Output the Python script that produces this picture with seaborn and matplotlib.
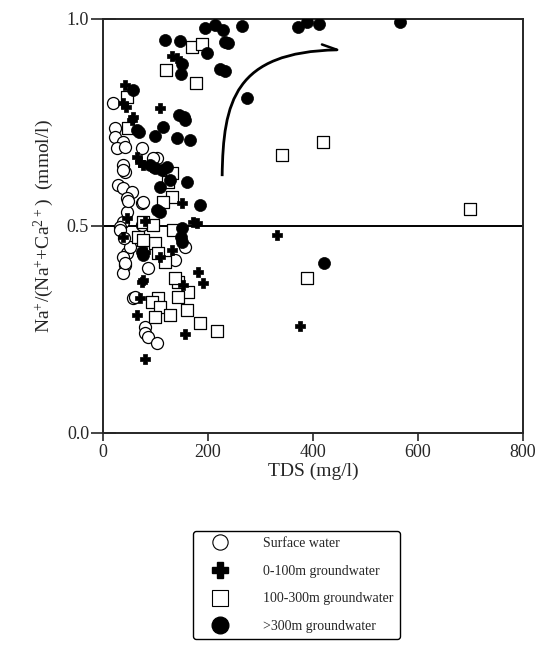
import matplotlib
matplotlib.use('Agg')
import matplotlib.pyplot as plt
from matplotlib.lines import Line2D
from matplotlib.path import Path
from matplotlib.patches import PathPatch
import numpy as np
import pandas as pd
import seaborn as sns

# surface water (open circles)
surf_tds = [19, 23, 23, 38, 27, 42, 74, 38, 42, 103, 29, 38, 55, 46, 74, 38, 46, 42, 38, 86,
            57, 74, 32, 156, 137, 80, 80, 86, 103, 38, 76, 46, 32, 38, 42, 95, 51, 61, 40, 48]
surf_rat = [0.797, 0.737, 0.715, 0.703, 0.688, 0.691, 0.688, 0.647, 0.630, 0.664, 0.599, 0.592,
            0.582, 0.568, 0.556, 0.510, 0.435, 0.406, 0.386, 0.399, 0.326, 0.502, 0.498, 0.449,
            0.418, 0.256, 0.242, 0.232, 0.217, 0.635, 0.558, 0.534, 0.490, 0.425, 0.410, 0.664,
            0.449, 0.329, 0.470, 0.560]
# 0-100m groundwater (crosses)
g1_tds = [42, 131, 141, 109, 38, 44, 57, 55, 65, 76, 93, 150, 171, 46, 179, 38, 76, 109, 131,
          76, 152, 181, 190, 65, 70, 156, 80, 331, 375, 70, 74, 80, 80]
g1_rat = [0.841, 0.911, 0.906, 0.785, 0.797, 0.787, 0.763, 0.756, 0.667, 0.647, 0.643, 0.556,
          0.510, 0.519, 0.507, 0.473, 0.430, 0.425, 0.442, 0.370, 0.357, 0.389, 0.362, 0.285,
          0.326, 0.239, 0.179, 0.478, 0.258, 0.655, 0.365, 0.437, 0.512]
# 100-300m groundwater (open squares)
g2_tds = [170, 189, 120, 177, 46, 48, 131, 124, 131, 114, 76, 99, 95, 67, 76, 105, 118, 143,
          137, 162, 143, 105, 93, 109, 128, 99, 160, 185, 217, 419, 340, 699, 389, 133]
g2_rat = [0.932, 0.940, 0.877, 0.845, 0.812, 0.737, 0.628, 0.606, 0.570, 0.558, 0.510, 0.459,
          0.502, 0.473, 0.466, 0.435, 0.413, 0.365, 0.374, 0.341, 0.329, 0.326, 0.316, 0.304,
          0.285, 0.280, 0.297, 0.266, 0.246, 0.703, 0.670, 0.541, 0.374, 0.490]
# >300m groundwater (filled circles)
g3_tds = [194, 213, 229, 232, 238, 265, 371, 389, 411, 566, 198, 223, 232, 274, 118, 147, 150,
          149, 57, 145, 154, 156, 114, 99, 141, 166, 65, 69, 99, 112, 109, 160, 185, 103, 109,
          150, 149, 150, 74, 76, 421, 89, 122, 128]
g3_rat = [0.978, 0.986, 0.973, 0.944, 0.942, 0.983, 0.981, 0.993, 0.988, 0.993, 0.918, 0.879,
          0.874, 0.809, 0.949, 0.947, 0.891, 0.867, 0.829, 0.768, 0.763, 0.756, 0.739, 0.717,
          0.713, 0.708, 0.732, 0.727, 0.640, 0.635, 0.594, 0.606, 0.551, 0.539, 0.534, 0.495,
          0.473, 0.461, 0.437, 0.430, 0.411, 0.647, 0.643, 0.611]

# trend arrow (bezier control points) and its barb
arrow_ctrl = [(227, 0.62), (229, 0.80), (250, 0.92), (446, 0.925)]
arrow_barb = [(417, 0.938), (446, 0.925)]

labels = ['Surface water', '0-100m groundwater', '100-300m groundwater', '>300m groundwater']

sns.set_style('ticks')
plt.rcParams['font.family'] = ['Liberation Serif', 'DejaVu Serif']
plt.rcParams['mathtext.default'] = 'regular'

fig = plt.figure(figsize=(5.36, 6.48), dpi=100)
ax = fig.add_axes([0.192, 0.332, 0.784, 0.639])

ax.axhline(0.5, color='black', lw=1.4, zorder=1)

groups = [
    (surf_tds, surf_rat, 'o', 'white', 75, 0.9),
    (g2_tds, g2_rat, 's', 'white', 70, 0.9),
    (g1_tds, g1_rat, 'P', 'black', 60, 0.5),
    (g3_tds, g3_rat, 'o', 'black', 75, 0.5),
]
for i, (x, y, m, fc, s, lw) in enumerate(groups):
    df = pd.DataFrame({'TDS': x, 'ratio': y})
    sns.scatterplot(data=df, x='TDS', y='ratio', marker=m, s=s, color=fc,
                    edgecolor='black', linewidth=lw, ax=ax, zorder=3 + i)

path = Path(arrow_ctrl, [Path.MOVETO, Path.CURVE4, Path.CURVE4, Path.CURVE4])
ax.add_patch(PathPatch(path, fc='none', ec='black', lw=2.0, zorder=10))
ax.plot([p[0] for p in arrow_barb], [p[1] for p in arrow_barb], color='black', lw=1.8, zorder=10)

ax.set_xlim(0, 800)
ax.set_ylim(0, 1.0)
ax.set_xticks([0, 200, 400, 600, 800])
ax.set_yticks([0.0, 0.5, 1.0])
ax.set_yticklabels(['0.0', '0.5', '1.0'])
ax.tick_params(axis='y', direction='inout', length=18, width=1.2, labelsize=13, pad=1)
ax.tick_params(axis='x', direction='out', length=6, width=1.2, labelsize=13, pad=2)
for sp in ax.spines.values():
    sp.set_linewidth(1.4)
    sp.set_visible(True)
ax.set_xlabel('TDS (mg/l)', fontsize=14, labelpad=1)
ax.set_ylabel(r'Na$^{+}$/(Na$^{+}$+Ca$^{2+}$)  (mmol/l)', fontsize=14, labelpad=8)

leg_handles = [
    Line2D([], [], marker='o', ls='', markersize=11, mfc='white', mec='black', mew=0.8),
    Line2D([], [], marker='P', ls='', markersize=12, mfc='black', mec='black'),
    Line2D([], [], marker='s', ls='', markersize=11, mfc='white', mec='black', mew=0.8),
    Line2D([], [], marker='o', ls='', markersize=12, mfc='black', mec='black'),
]
leg = fig.legend(leg_handles, labels, loc='upper left', bbox_to_anchor=(193 / 536, 1 - 531 / 648),
                 fontsize=10, labelspacing=1.05, handlelength=3.0, handletextpad=1.6,
                 borderpad=0.45, fancybox=True, framealpha=1, edgecolor='black',
                 borderaxespad=0)
leg.get_frame().set_linewidth(1.0)

fig.savefig('out.png', dpi=100)
